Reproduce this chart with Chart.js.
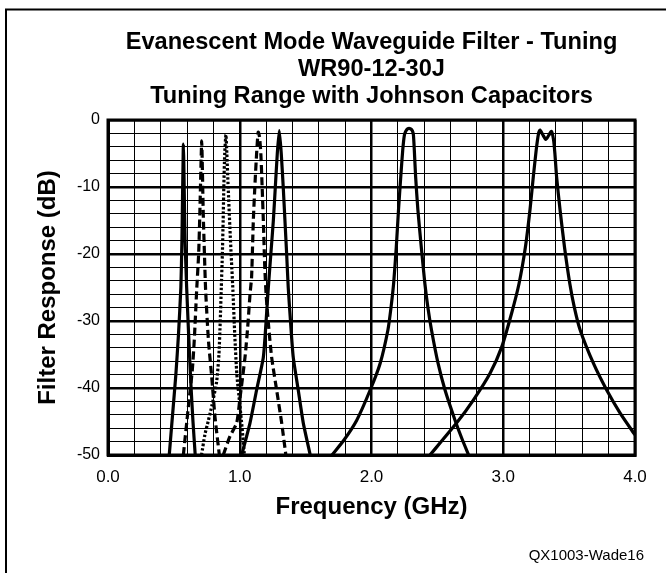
<!DOCTYPE html>
<html>
<head>
<meta charset="utf-8">
<script src="https://cdn.jsdelivr.net/npm/chart.js@4.4.1/dist/chart.umd.min.js"></script>
<style>
  html, body { margin: 0; padding: 0; background: #fff; }
  #wrap { width: 666px; height: 573px; }
</style>
</head>
<body>
<div id="wrap"><canvas id="filter-chart" width="666" height="573"></canvas></div>
<script>
// texts
const titleLines = ['Evanescent Mode Waveguide Filter - Tuning', 'WR90-12-30J', 'Tuning Range with Johnson Capacitors'];
const footNote = 'QX1003-Wade16';
const xTitle = 'Frequency (GHz)';
const yTitle = 'Filter Response (dB)';
const xTickLabels = ['0.0', '1.0', '2.0', '3.0', '4.0'];
const yTickLabels = ['0', '-10', '-20', '-30', '-40', '-50'];

// curves: frequency (GHz) / response (dB)
const c1Freq = [0.465, 0.49, 0.515, 0.535, 0.553, 0.561, 0.566, 0.570, 0.572, 0.575, 0.579, 0.585, 0.597, 0.612, 0.628, 0.645, 0.662];
const c1Resp = [-50, -44, -38, -32, -25, -18, -11, -6, -3.6, -6, -11, -18, -25, -32, -39, -45, -50];

const c2Freq = [0.572, 0.61, 0.64, 0.655, 0.673, 0.688, 0.697, 0.703, 0.708, 0.711, 0.714, 0.718, 0.723, 0.732, 0.741, 0.762, 0.787, 0.812, 0.845];
const c2Resp = [-50, -42.8, -37.3, -32.8, -25.4, -20, -14, -9, -5, -3.1, -5, -9, -14, -20, -25.4, -32.8, -38.3, -44.3, -50];

const c3Freq = [0.71, 0.735, 0.76, 0.79, 0.825, 0.842, 0.852, 0.86, 0.868, 0.874, 0.879, 0.886, 0.895, 0.902, 0.912, 0.925, 0.937, 0.948, 0.962, 0.978, 0.998, 1.018, 1.035];
const c3Resp = [-50, -47, -45, -42.5, -39, -35, -30, -25, -20, -15, -10, -5, -2.2, -5, -10, -16, -21, -25.4, -32, -38, -42, -46, -50];

const c4Freq = [0.875, 0.926, 0.977, 1.0, 1.04, 1.06, 1.078, 1.09, 1.103, 1.116, 1.128, 1.14, 1.15, 1.16, 1.17, 1.179, 1.19, 1.2, 1.217, 1.242, 1.28, 1.318, 1.35];
const c4Resp = [-50, -47.2, -45.2, -41.8, -35.4, -31, -26, -23.4, -15, -9.4, -5, -1.8, -2.5, -5, -10, -15, -22, -26, -30.3, -35.4, -40.3, -45.2, -50];

const c5Freq = [1.015, 1.078, 1.128, 1.179, 1.2, 1.217, 1.236, 1.255, 1.27, 1.285, 1.30, 1.315, 1.33, 1.343, 1.356, 1.368, 1.385, 1.406, 1.444, 1.482, 1.535];
const c5Resp = [-50, -45.2, -40.3, -35.4, -30, -25, -20, -15, -10, -5, -1.6, -5, -10, -15, -20, -25, -30, -35.4, -40.3, -45.2, -50];

const c6Freq = [1.70, 1.79, 1.888, 1.99, 2.066, 2.125, 2.148, 2.168, 2.188, 2.205, 2.222, 2.237, 2.25, 2.262, 2.275, 2.295, 2.31, 2.318, 2.325, 2.335, 2.352, 2.378, 2.405, 2.428, 2.455, 2.505, 2.558, 2.634, 2.685, 2.737];
const c6Resp = [-50, -47.8, -44.8, -40.3, -36.3, -31.3, -28, -24.4, -19, -13.4, -8.5, -4.5, -2.2, -1.6, -1.3, -1.3, -1.6, -2.2, -4.5, -8.5, -13.4, -19, -24.4, -28, -31.3, -36.3, -40.3, -44.8, -47.5, -50];

const c7Freq = [2.444, 2.647, 2.773, 2.9, 2.988, 3.064, 3.12, 3.168, 3.203, 3.228, 3.25, 3.268, 3.279, 3.30, 3.323, 3.345, 3.366, 3.382, 3.392, 3.405, 3.431, 3.465, 3.505, 3.54, 3.583, 3.684, 3.785, 3.886, 4.0];
const c7Resp = [-50, -45.2, -41.8, -37.8, -33.9, -28.8, -24.4, -19, -13.4, -8.5, -4.5, -2.0, -1.5, -2.2, -2.9, -2.3, -1.7, -3, -5, -8.5, -13.4, -19, -24.4, -28, -31.3, -36.3, -40.3, -43.7, -47];

const toPoints = (freq, resp) => freq.map((f, i) => ({ x: f, y: resp[i] }));

const solid = [];
const dashed = [8, 4];
const dotted = [2.5, 2];

function curve(freq, resp, dash) {
    return {
        data: toPoints(freq, resp),
        borderColor: '#000',
        borderWidth: 3.2,
        borderDash: dash,
        borderCapStyle: 'butt',
        showLine: true,
        pointRadius: 0,
        fill: false,
        tension: 0.2
    };
}

// frame, plot border, title, footnote
const decorations = {
    id: 'decorations',
    afterDatasetsDraw(chart) {
        const { ctx, chartArea: a } = chart;
        ctx.save();
        ctx.strokeStyle = '#000';
        ctx.lineWidth = 3;
        ctx.strokeRect(a.left, a.top, a.right - a.left, a.bottom - a.top);
        ctx.restore();
    },
    afterDraw(chart) {
        const { ctx, chartArea: a } = chart;
        ctx.save();
        ctx.strokeStyle = '#000';
        ctx.lineWidth = 2;
        ctx.strokeRect(6, 9.5, 720, 620);
        ctx.fillStyle = '#000';
        ctx.textAlign = 'center';
        ctx.textBaseline = 'alphabetic';
        ctx.font = 'bold 23.6px "Liberation Sans", Arial, sans-serif';
        const cx = (a.left + a.right) / 2;
        titleLines.forEach((t, i) => ctx.fillText(t, cx, 49 + i * 27));
        ctx.font = '15px "Liberation Sans", Arial, sans-serif';
        ctx.textAlign = 'right';
        ctx.fillText(footNote, 644, 560);
        ctx.restore();
    }
};

const isMajorX = v => Math.abs(v - Math.round(v)) < 1e-6;
const isMajorY = v => Math.abs(v / 10 - Math.round(v / 10)) < 1e-6;

Chart.defaults.font.family = '"Liberation Sans", Arial, sans-serif';
Chart.defaults.color = '#000';

const ctx = document.getElementById('filter-chart').getContext('2d');
const filterChart = new Chart(ctx, {
    type: 'scatter',
    data: {
        datasets: [
            curve(c1Freq, c1Resp, solid),
            curve(c2Freq, c2Resp, dashed),
            curve(c3Freq, c3Resp, dotted),
            curve(c4Freq, c4Resp, dashed),
            curve(c5Freq, c5Resp, solid),
            curve(c6Freq, c6Resp, solid),
            curve(c7Freq, c7Resp, solid)
        ]
    },
    options: {
        responsive: false,
        animation: false,
        layout: { padding: { top: 120, right: 31, bottom: 0, left: 0 } },
        plugins: {
            legend: { display: false },
            tooltip: { enabled: false }
        },
        scales: {
            x: {
                type: 'linear',
                min: 0,
                max: 4,
                afterFit: s => { s.height = 118; },
                ticks: {
                    stepSize: 0.2,
                    autoSkip: false,
                    maxRotation: 0,
                    padding: 12,
                    font: { size: 17 },
                    callback: v => {
                        const i = xTickLabels.indexOf(Number(v).toFixed(1));
                        return i >= 0 ? xTickLabels[i] : '';
                    }
                },
                grid: {
                    color: '#000',
                    lineWidth: c => (c.tick && isMajorX(c.tick.value) ? 2.5 : 1),
                    drawTicks: false
                },
                border: { color: '#000', width: 3 },
                title: {
                    display: true,
                    text: xTitle,
                    font: { size: 24, weight: 'bold' },
                    padding: { top: 0, bottom: 51 }
                }
            },
            y: {
                type: 'linear',
                min: -50,
                max: 0,
                afterFit: s => { s.width = 108; },
                ticks: {
                    stepSize: 2,
                    autoSkip: false,
                    padding: 8,
                    font: { size: 16 },
                    callback: v => {
                        const i = yTickLabels.indexOf(String(Math.round(v)));
                        return isMajorY(v) && i >= 0 ? yTickLabels[i] : '';
                    }
                },
                grid: {
                    color: '#000',
                    lineWidth: c => (c.tick && isMajorY(c.tick.value) ? 2.5 : 1),
                    drawTicks: false
                },
                border: { color: '#000', width: 3 },
                title: {
                    display: true,
                    text: yTitle,
                    font: { size: 24, weight: 'bold' },
                    padding: { top: 34, bottom: 0 }
                }
            }
        }
    },
    plugins: [decorations]
});
</script>
</body>
</html>
